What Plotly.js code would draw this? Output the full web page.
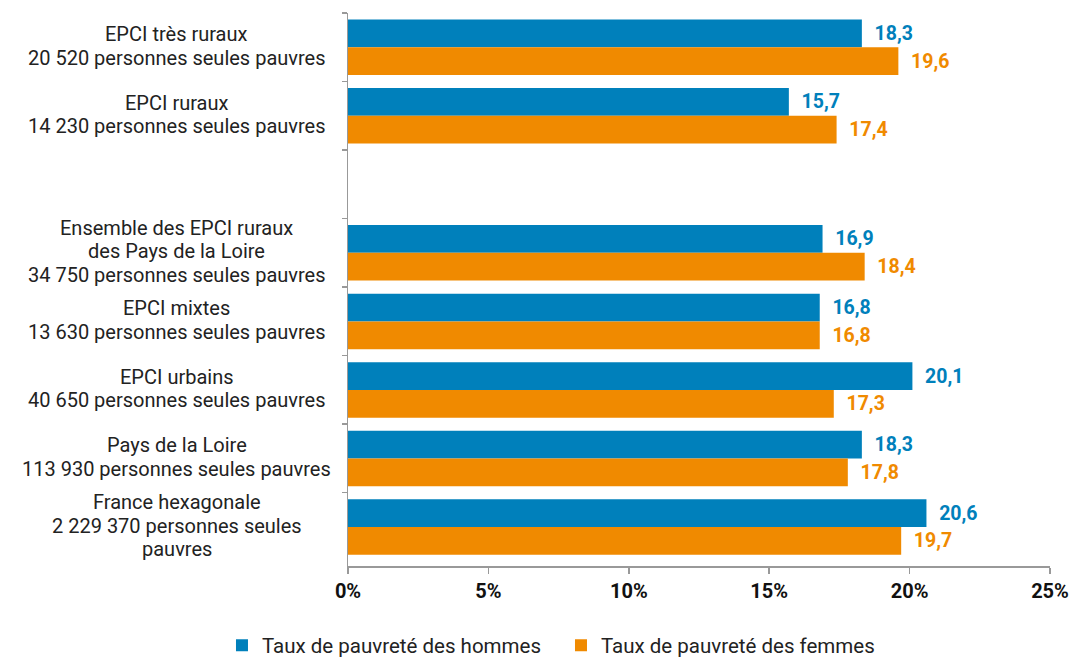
<!DOCTYPE html>
<html><head><meta charset="utf-8">
<script src="https://cdn.plot.ly/plotly-3.0.1.min.js"></script>
<style>body{margin:0;padding:0;background:#fff}</style>
</head><body>
<div id="chart" style="width:1073px;height:660px"></div>
<script>
const categories = [
  "EPCI très ruraux<br>20 520 personnes seules pauvres",
  "EPCI ruraux<br>14 230 personnes seules pauvres",
  " ",
  "Ensemble des EPCI ruraux<br>des Pays de la Loire<br>34 750 personnes seules pauvres",
  "EPCI mixtes<br>13 630 personnes seules pauvres",
  "EPCI urbains<br>40 650 personnes seules pauvres",
  "Pays de la Loire<br>113 930 personnes seules pauvres",
  "France hexagonale<br>2 229 370 personnes seules<br>pauvres"
];
const hommes = [18.3, 15.7, null, 16.9, 16.8, 20.1, 18.3, 20.6];
const femmes = [19.6, 17.4, null, 18.4, 16.8, 17.3, 17.8, 19.7];
const seriesNames = ["Taux de pauvreté des hommes", "Taux de pauvreté des femmes"];
const xTicks = [0, 5, 10, 15, 20, 25];

const BLUE = "#0080BB", ORANGE = "#F08A00";
const FONT = "Roboto, 'Noto Sans', sans-serif";
const LINE_H = 23.5;

function barTrace(vals, name, color) {
  return {
    type: "bar", orientation: "h", y: categories, x: vals, name: name,
    marker: {color: color, line: {width: 0}},
    texttemplate: "\u00a0\u00a0%{x:.1f}", textposition: "outside", cliponaxis: false,
    textfont: {family: FONT, size: 19.5, color: color, weight: "bold"},
    hoverinfo: "skip"
  };
}

const annotations = [];
categories.forEach((c, i) => {
  const lines = c.trim() ? c.split("<br>") : [];
  lines.forEach((ln, k) => {
    annotations.push({
      xref: "paper", yref: "y", x: -0.2436, y: i, xanchor: "center", yanchor: "middle",
      yshift: -((k - (lines.length - 1) / 2) * LINE_H) + 1.5,
      text: ln, showarrow: false, align: "center",
      font: {family: FONT, size: 20, color: "#222"}
    });
  });
});

const layout = {
  width: 1073, height: 660,
  margin: {l: 348, r: 23, t: 12.5, b: 94, pad: 0},
  barmode: "group", bargap: 0.19, bargroupgap: 0,
  separators: ", ",
  paper_bgcolor: "#fff", plot_bgcolor: "#fff",
  font: {family: FONT, size: 20, color: "#222"},
  xaxis: {
    range: [0, 25], tickvals: xTicks, ticktext: xTicks.map(v => v + "%"),
    showgrid: false, zeroline: false, showline: true, linecolor: "#999", linewidth: 1.5,
    ticks: "outside", ticklen: 6, tickcolor: "#999", tickwidth: 1.5,
    tickfont: {family: FONT, size: 20, color: "#111", weight: "bold"}
  },
  yaxis: {
    type: "category", categoryorder: "array", categoryarray: categories,
    autorange: "reversed", showticklabels: false, tickson: "boundaries",
    ticks: "outside", ticklen: 5, tickcolor: "#999", tickwidth: 1.5,
    showline: true, linecolor: "#999", linewidth: 1.5, showgrid: false, zeroline: false
  },
  legend: {
    orientation: "h", xref: "paper", yref: "container",
    x: 0.3034, xanchor: "center", y: 0.022, yanchor: "middle",
    entrywidth: 294, entrywidthmode: "pixels",
    font: {family: FONT, size: 20.5, color: "#222"}, traceorder: "normal",
    itemclick: false
  },
  showlegend: true,
  annotations: annotations
};

Plotly.newPlot("chart", [barTrace(hommes, seriesNames[0], BLUE), barTrace(femmes, seriesNames[1], ORANGE)], layout, {staticPlot: true, displayModeBar: false});
</script>
</body></html>
